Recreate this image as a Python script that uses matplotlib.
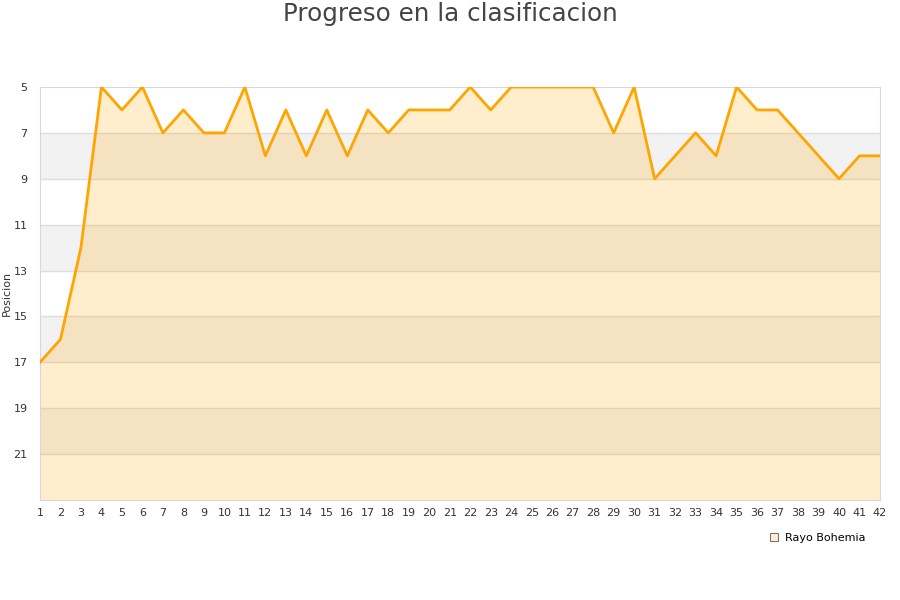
import matplotlib.pyplot as plt

# Posicion por jornada
jornadas = list(range(1, 43))
posicion = [17, 16, 12, 5, 6, 5, 7, 6, 7, 7, 5, 8, 6, 8, 6, 8, 6, 7, 6, 6, 6,
            5, 6, 5, 5, 5, 5, 5, 7, 5, 9, 8, 7, 8, 5, 6, 6, 7, 8, 9, 8, 8]
equipo = 'Rayo Bohemia'
y_ticks = [5, 7, 9, 11, 13, 15, 17, 19, 21]

fig = plt.figure(figsize=(9, 6), dpi=100)
ax = fig.add_axes([0.0444, 0.1667, 0.9334, 0.6883])

# alternating bands
for i, t in enumerate(range(5, 23, 2)):
    ax.axhspan(t, t + 2, color='white' if i % 2 == 0 else '#f2f2f2', zorder=0, lw=0)
for t in y_ticks[1:]:
    ax.axhline(t, color='#dddddd', lw=1, zorder=1)

ax.fill_between(jornadas, posicion, 23, color='#ffa500', alpha=0.2, lw=0, zorder=2)
ax.plot(jornadas, posicion, color='#ffa500', lw=2, zorder=3)
ax.plot([], [], 's', color='#ffedcc', mec='#555555', mew=0.6, ms=6, label=equipo)

ax.set_xlim(1, 42)
ax.set_ylim(23, 5)
ax.set_xticks(jornadas)
ax.set_yticks(y_ticks)
ax.tick_params(length=0, labelsize=8, colors='#333333')
ax.tick_params(axis='y', pad=9)
ax.tick_params(axis='x', pad=6)
for s in ax.spines.values():
    s.set_color('#d8d8d8')
ax.set_ylabel('Posicion', fontsize=8, color='#333333')
ax.yaxis.set_label_coords(-0.033, 0.5)

fig.suptitle('Progreso en la clasificacion', fontsize=17.7, color='#444444', y=0.997)
ax.legend(loc='upper right', bbox_to_anchor=(0.995, -0.055), frameon=False,
          fontsize=8, handletextpad=0.5, handlelength=1)

plt.savefig('out.png')
